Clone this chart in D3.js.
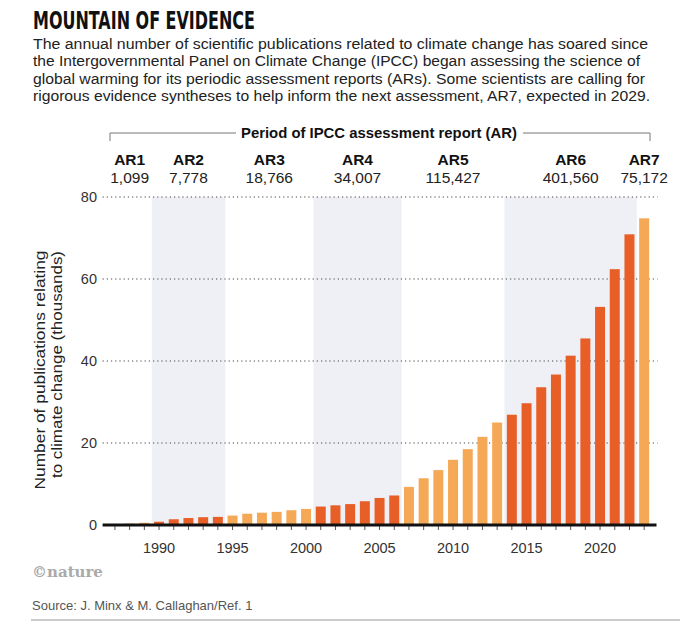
<!DOCTYPE html>
<html lang="en">
<head>
  <meta charset="UTF-8" />
  <title>Mountain of evidence</title>
  <script src="https://d3js.org/d3.v7.min.js"></script>
  <style>
    html, body {
      margin: 0;
      padding: 0;
      background: #ffffff;
      overflow: hidden;
    }
    svg { display: block; }
    .body-text { font-family: 'Liberation Sans', Arial, sans-serif; font-size: 15.5px; fill: #222; }
    .tick-label { font-family: 'Liberation Sans', Arial, sans-serif; font-size: 14.5px; fill: #333; }
    .ar-name { font-family: 'Liberation Sans', Arial, sans-serif; font-size: 15.5px; font-weight: 700; fill: #111; }
    .ar-count { font-family: 'Liberation Sans', Arial, sans-serif; font-size: 15.5px; fill: #222; }
  </style>
</head>
<body>
<svg id="chart" width="680" height="622"></svg>
<script>
// data
const years = d3.range(1987, 2024);
const publications = [ // thousands per year, 1987..2023
  0.2, 0.35, 0.55,
  0.8, 1.4, 1.7, 1.9, 1.98,
  2.3, 2.75, 3.0, 3.2, 3.6, 3.9,
  4.5, 4.8, 5.1, 5.8, 6.6, 7.2,
  9.3, 11.4, 13.4, 15.9, 18.5, 21.5, 25.0,
  26.9, 29.7, 33.6, 36.7, 41.3, 45.5, 53.2, 62.4, 70.9,
  74.8
];
const reports = ["AR1", "AR2", "AR3", "AR4", "AR5", "AR6", "AR7"];
const reportStart = [1987, 1990, 1995, 2001, 2007, 2014, 2023];
const reportEnd = [1989, 1994, 2000, 2006, 2013, 2022, 2023];
const reportTotals = ["1,099", "7,778", "18,766", "34,007", "115,427", "401,560", "75,172"];
const yTicks = [0, 20, 40, 60, 80];
const xTickLabels = [1990, 1995, 2000, 2005, 2010, 2015, 2020];

const introLines = [
  "The annual number of scientific publications related to climate change has soared since",
  "the Intergovernmental Panel on Climate Change (IPCC) began assessing the science of",
  "global warming for its periodic assessment reports (ARs). Some scientists are calling for",
  "rigorous evidence syntheses to help inform the next assessment, AR7, expected in 2029."
];
const introWidths = [615, 607, 612, 617];

const darkOrange = "#e85e27";
const lightOrange = "#f5a957";
const shadeColor = "#eef0f5";

const svg = d3.select("#chart");

// header
svg.append("text")
  .attr("x", 33)
  .attr("y", 29)
  .attr("textLength", 222)
  .attr("lengthAdjust", "spacingAndGlyphs")
  .style("font-family", "'DejaVu Sans Condensed', 'DejaVu Sans', sans-serif")
  .style("font-weight", 700)
  .style("font-size", "25px")
  .style("fill", "#111")
  .text("MOUNTAIN OF EVIDENCE");

svg.selectAll("text.body-text")
  .data(introLines)
  .enter()
  .append("text")
  .attr("class", "body-text")
  .attr("x", 33)
  .attr("y", (d, i) => 48.5 + i * 17.5)
  .attr("textLength", (d, i) => introWidths[i])
  .attr("lengthAdjust", "spacingAndGlyphs")
  .text(d => d);

// scales
const x = d3.scaleBand()
  .domain(years)
  .range([107.6, 651.5])
  .paddingInner(0.32)
  .paddingOuter(0.16);

const y = d3.scaleLinear()
  .domain([0, 80])
  .range([525, 197]);

const left = x.range()[0] - 5;
const right = x.range()[1] + 5;
const xc = yr => x(yr) + x.bandwidth() / 2;
const bandLeft = yr => x(yr) - x.step() * x.paddingInner() / 2;
const bandRight = yr => x(yr) + x.bandwidth() + x.step() * x.paddingInner() / 2;

// shaded periods (AR2, AR4, AR6)
const shaded = reports.map((r, i) => i).filter(i => i % 2 === 1);
svg.selectAll("rect.shade")
  .data(shaded)
  .enter()
  .append("rect")
  .attr("class", "shade")
  .attr("x", i => bandLeft(reportStart[i]))
  .attr("width", i => bandRight(reportEnd[i]) - bandLeft(reportStart[i]))
  .attr("y", y(80))
  .attr("height", y(0) - y(80))
  .attr("fill", shadeColor);

// gridlines
svg.selectAll("line.grid")
  .data(yTicks.filter(t => t > 0))
  .enter()
  .append("line")
  .attr("class", "grid")
  .attr("x1", left)
  .attr("x2", right + 1)
  .attr("y1", d => y(d))
  .attr("y2", d => y(d))
  .attr("stroke", "#444")
  .attr("stroke-width", 1.1)
  .attr("stroke-dasharray", "1.2,3");

svg.selectAll("text.ylab")
  .data(yTicks)
  .enter()
  .append("text")
  .attr("class", "tick-label")
  .attr("x", 97)
  .attr("y", d => y(d))
  .attr("dy", "0.35em")
  .attr("text-anchor", "end")
  .text(d => d);

// bars
const periodOf = yr => reportStart.findIndex((s, i) => yr >= s && yr <= reportEnd[i]);
svg.selectAll("rect.bar")
  .data(years)
  .enter()
  .append("rect")
  .attr("class", "bar")
  .attr("x", d => x(d))
  .attr("width", x.bandwidth())
  .attr("y", (d, i) => y(publications[i]))
  .attr("height", (d, i) => y(0) - y(publications[i]))
  .attr("fill", d => periodOf(d) % 2 === 1 ? darkOrange : lightOrange);

// x axis
const xAxis = svg.append("g").attr("transform", `translate(0,${y(0)})`);
xAxis.selectAll("line.tick")
  .data(years)
  .enter()
  .append("line")
  .attr("x1", d => xc(d))
  .attr("x2", d => xc(d))
  .attr("y1", 0)
  .attr("y2", 5)
  .attr("stroke", "#555")
  .attr("stroke-width", 1);
xAxis.append("line")
  .attr("x1", left)
  .attr("x2", right)
  .attr("y1", 0)
  .attr("y2", 0)
  .attr("stroke", "#111")
  .attr("stroke-width", 3);
xAxis.selectAll("text")
  .data(xTickLabels)
  .enter()
  .append("text")
  .attr("class", "tick-label")
  .attr("x", d => xc(d))
  .attr("y", 28)
  .attr("text-anchor", "middle")
  .text(d => d);

// y axis title
const yTitle = svg.append("g")
  .style("font-family", "'Liberation Sans', Arial, sans-serif")
  .style("font-size", "14.5px")
  .style("fill", "#222");
yTitle.append("text")
  .attr("transform", "translate(45,370) rotate(-90)")
  .attr("text-anchor", "middle")
  .attr("textLength", 239)
  .attr("lengthAdjust", "spacingAndGlyphs")
  .text("Number of publications relating");
yTitle.append("text")
  .attr("transform", "translate(62,364.5) rotate(-90)")
  .attr("text-anchor", "middle")
  .attr("textLength", 227)
  .attr("lengthAdjust", "spacingAndGlyphs")
  .text("to climate change (thousands)");

// AR bracket
const bracket = svg.append("g")
  .attr("fill", "none")
  .attr("stroke", "#777")
  .attr("stroke-width", 1);
bracket.append("path").attr("d", "M110,141V133H236");
bracket.append("path").attr("d", "M523,133H650V141");
svg.append("text")
  .attr("x", 379)
  .attr("y", 138)
  .attr("text-anchor", "middle")
  .attr("textLength", 276)
  .attr("lengthAdjust", "spacingAndGlyphs")
  .style("font-family", "'Liberation Sans', Arial, sans-serif")
  .style("font-weight", 700)
  .style("font-size", "15.5px")
  .style("fill", "#111")
  .text("Period of IPCC assessment report (AR)");

const arCenter = i => (xc(reportStart[i]) + xc(reportEnd[i])) / 2;
svg.selectAll("text.ar-name")
  .data(reports)
  .enter()
  .append("text")
  .attr("class", "ar-name")
  .attr("x", (d, i) => arCenter(i))
  .attr("y", 165)
  .attr("text-anchor", "middle")
  .text(d => d);
svg.selectAll("text.ar-count")
  .data(reportTotals)
  .enter()
  .append("text")
  .attr("class", "ar-count")
  .attr("x", (d, i) => arCenter(i))
  .attr("y", 183)
  .attr("text-anchor", "middle")
  .text(d => d);

// footer
svg.append("text")
  .attr("x", 32)
  .attr("y", 577)
  .style("font-family", "'DejaVu Serif', 'Liberation Serif', serif")
  .style("font-weight", 700)
  .style("font-size", "15px")
  .style("fill", "#aaa")
  .text("\u00a9nature");
svg.append("text")
  .attr("x", 32)
  .attr("y", 610)
  .style("font-family", "'Liberation Sans', Arial, sans-serif")
  .style("font-size", "13px")
  .style("fill", "#555")
  .text("Source: J. Minx & M. Callaghan/Ref. 1");
svg.append("line")
  .attr("x1", 31)
  .attr("x2", 680)
  .attr("y1", 620)
  .attr("y2", 620)
  .attr("stroke", "#999")
  .attr("stroke-width", 1);
</script>
</body>
</html>
